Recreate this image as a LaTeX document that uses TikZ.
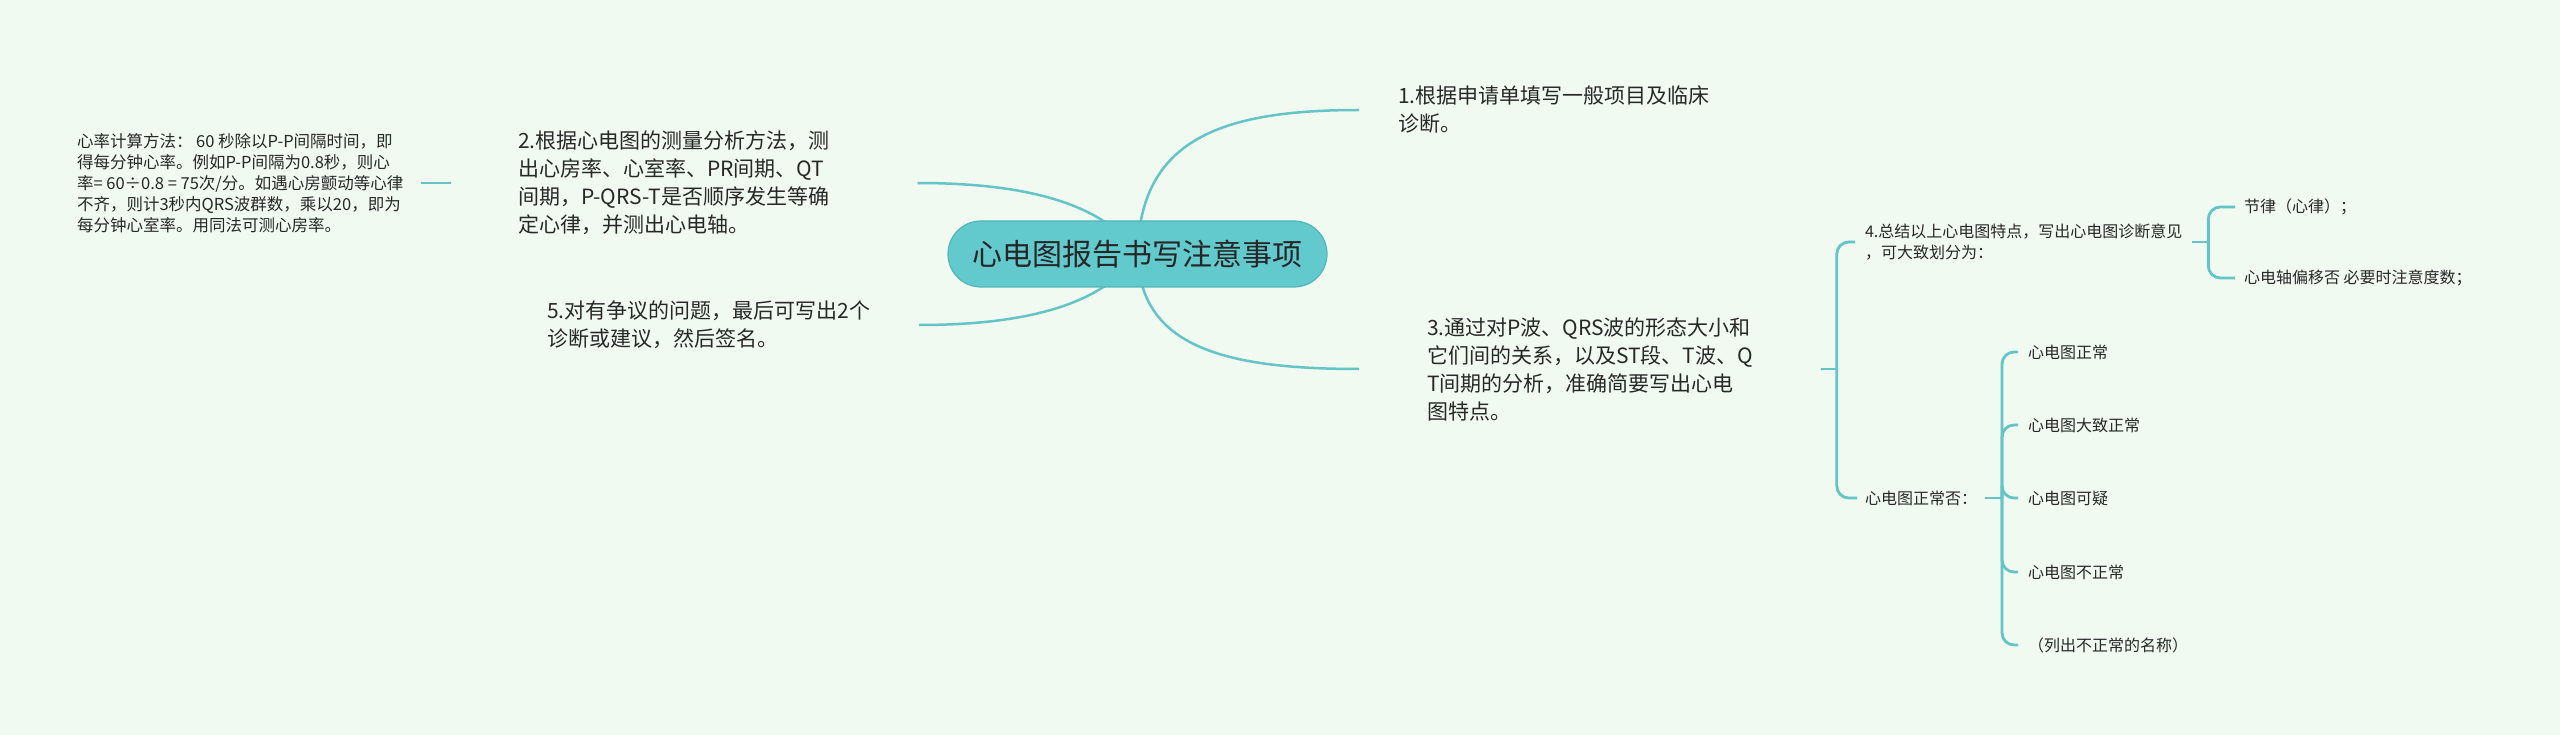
\documentclass[tikz,border=0pt]{standalone}
\usepackage{fontspec}
\setmainfont{Noto Sans CJK SC}
\definecolor{bgc}{RGB}{240,250,240}
\definecolor{tealc}{RGB}{100,196,200}
\definecolor{rootfill}{RGB}{98,201,204}
\definecolor{rootdraw}{RGB}{82,182,188}
\definecolor{txt}{RGB}{40,40,40}
\pgfdeclarelayer{back}
\pgfsetlayers{back,main}
\tikzset{
  conn/.style={draw=tealc, line width=2.5pt},
  brk/.style={draw=tealc, line width=2.8pt, rounded corners=12pt},
  lvlone/.style={anchor=west, inner sep=0pt, align=left, text=txt, font=\fontsize{21pt}{28pt}\selectfont},
  small/.style={anchor=west, inner sep=0pt, align=left, text=txt, font=\fontsize{16pt}{21pt}\selectfont},
  leafstyle/.style={anchor=west, inner sep=0pt, align=left, text=txt, font=\fontsize{16.5pt}{21pt}\selectfont},
  rootbox/.style={rounded corners=33pt, fill=rootfill, draw=rootdraw, line width=1.2pt,
    minimum width=379pt, minimum height=66pt, inner sep=0pt, text=black!85,
    font=\fontsize{30pt}{36pt}\selectfont}
}
\begin{document}
\begin{tikzpicture}[x=1pt,y=-1pt]
\useasboundingbox (0,0) rectangle (2560,735);
\begin{pgfonlayer}{back}
\fill[bgc] (0,0) rectangle (2560,735);
\end{pgfonlayer}

% root
\node[rootbox] (root) at (1137.5,254) {心电图报告书写注意事项};

% level one
\node[lvlone, outer xsep=39pt] (n1) at (1359,110) {1.根据申请单填写一般项目及临床\\诊断。};
\node[lvlone, outer xsep=67pt] (n2) at (451,183) {2.根据心电图的测量分析方法，测\\出心房率、心室率、PR间期、QT\\间期，P-QRS-T是否顺序发生等确\\定心律，并测出心电轴。};
\node[lvlone, outer xsep=68pt] (n3) at (1359,369) {3.通过对P波、QRS波的形态大小和\\它们间的关系，以及ST段、T波、Q\\T间期的分析，准确简要写出心电\\图特点。};
\node[lvlone, outer xsep=43pt] (n5) at (504,325) {5.对有争议的问题，最后可写出2个\\诊断或建议，然后签名。};

% leaf of n2
\node[leafstyle, outer xsep=18pt] (leaf) at (59,183) {心率计算方法： 60 秒除以P-P间隔时间，即\\得每分钟心率。例如P-P间隔为0.8秒，则心\\率= 60÷0.8 = 75次/分。如遇心房颤动等心律\\不齐，则计3秒内QRS波群数，乘以20，即为\\每分钟心室率。用同法可测心房率。};

% children of n3
\node[small, outer xsep=10pt] (n4) at (1855,242) {4.总结以上心电图特点，写出心电图诊断意见\\，可大致划分为：};
\node[small, outer xsep=8pt] (zc) at (1857,498) {心电图正常否：};

% children of n4
\node[small, outer xsep=9pt] (b1) at (2235,207) {节律（心律）；};
\node[small, outer xsep=9pt] (b2) at (2235,278) {心电轴偏移否 必要时注意度数；};

% children of zc
\node[small, outer xsep=10pt] (c1) at (2018,352) {心电图正常};
\node[small, outer xsep=10pt] (c2) at (2018,425) {心电图大致正常};
\node[small, outer xsep=10pt] (c3) at (2018,498) {心电图可疑};
\node[small, outer xsep=10pt] (c4) at (2018,572) {心电图不正常};
\node[small, outer xsep=10pt] (c5) at (2018,645) {（列出不正常的名称）};

\begin{pgfonlayer}{back}
\draw[conn] (root.center) .. controls (1140,140) and (1220,110) .. (n1.west);
\draw[conn] (root.center) .. controls (1140,345) and (1220,369) .. (n3.west);
\draw[conn] (root.center) .. controls (1105,205) and (1030,183) .. ([xshift=21pt]n2.east);
\draw[conn] (root.center) .. controls (1105,303) and (1030,325) .. ([xshift=6pt]n5.east);
\end{pgfonlayer}

\draw[conn] (n2.west) -- (leaf.east);

% bracket from n3
\coordinate (ja) at ([xshift=16pt]n3.east);
\draw[conn, line width=2.8pt] (n3.east) -- (ja);
\draw[brk] (ja) |- (n4.west);
\draw[brk] (ja) |- (zc.west);

% bracket from n4
\coordinate (jb) at ([xshift=16pt]n4.east);
\draw[conn, line width=2.8pt] (n4.east) -- (jb);
\draw[brk] (jb) |- (b1.west);
\draw[brk] (jb) |- (b2.west);

% bracket from zc
\coordinate (jc) at ([xshift=17pt]zc.east);
\draw[conn, line width=2.8pt] (zc.east) -- (jc);
\draw[brk] (jc) |- (c1.west);
\draw[brk] (jc) |- (c2.west);
\draw[brk] (jc) |- (c3.west);
\draw[brk] (jc) |- (c4.west);
\draw[brk] (jc) |- (c5.west);
\end{tikzpicture}
\end{document}
